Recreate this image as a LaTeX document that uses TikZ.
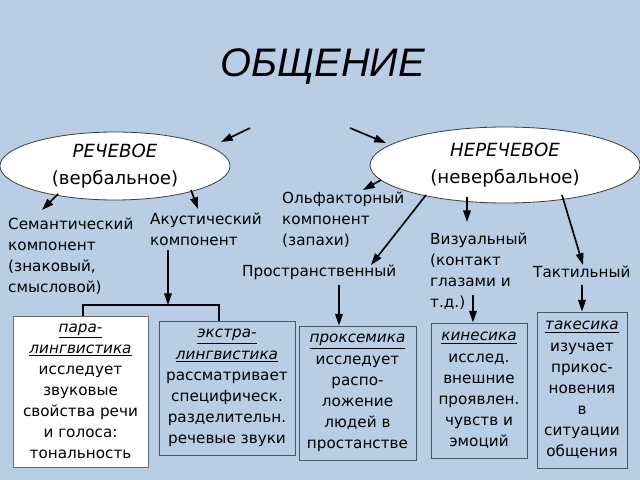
\documentclass[tikz,border=0pt]{standalone}
\usepackage{fontspec}
\setmainfont{DejaVu Sans}
\newfontfamily\titlefont{Liberation Sans}
\usetikzlibrary{shapes.geometric,arrows.meta}
\definecolor{bg}{HTML}{B9CDE5}
\definecolor{boxline}{HTML}{46566A}
\definecolor{paraline}{HTML}{6A6A6A}
\begin{document}
\begin{tikzpicture}[x=0.03cm,y=-0.03cm,
  lbl/.style={font=\fontsize{13}{18}\selectfont, align=left, anchor=west, inner sep=0},
  ell/.style={ellipse, draw=black!75, fill=white, line width=0.7pt, align=center, inner sep=0,
              font=\fontsize{15.5}{22.5}\selectfont},
  infobox/.style={draw=boxline, fill=bg, line width=0.8pt, align=center, inner sep=0,
              font=\fontsize{13}{18}\selectfont},
  arr/.style={-{Triangle[length=10pt,width=6.5pt]}, line width=1.4pt},
  ln/.style={line width=1.4pt}]
\fill[bg] (0,0) rectangle (640,480);
\useasboundingbox (0,0) rectangle (640,480);

% title
\node[font=\titlefont\itshape\fontsize{34}{40}\selectfont, inner sep=0] (title) at (323,67) {ОБЩЕНИЕ};

% ellipses
\node[ell, minimum width=6.9cm, minimum height=2.04cm] (rech) at (115,166)
  {{\itshape РЕЧЕВОЕ}\\(вербальное)};
\node[ell, minimum width=8.1cm, minimum height=2.28cm] (nerech) at (505,165)
  {{\itshape НЕРЕЧЕВОЕ}\\(невербальное)};

% labels
\node[lbl] (sem) at (8,256) {Семантический\\компонент\\(знаковый,\\смысловой)};
\node[lbl] (akus) at (150,229) {Акустический\\компонент};
\node[lbl] (olf) at (282,220) {Ольфакторный\\компонент\\(запахи)};
\node[lbl] (prost) at (242,272) {Пространственный};
\node[lbl] (viz) at (430,271) {Визуальный\\(контакт\\глазами и\\т.д.)};
\node[lbl] (takt) at (533,272) {Тактильный};

% boxes
\node[infobox, fill=white, draw=paraline, minimum width=4.05cm, minimum height=4.53cm] (para) at (80.5,391.5)
  {\underline{\textit{пара-}}\\\underline{\textit{лингвистика}}\\исследует\\звуковые\\свойства речи\\и голоса:\\тональность};
\node[infobox, minimum width=4.08cm, minimum height=4.02cm] (extra) at (227,388)
  {\underline{\textit{экстра-}}\\\underline{\textit{лингвистика}}\\рассматривает\\специфическ.\\разделительн.\\речевые звуки};
\node[infobox, minimum width=3.51cm, minimum height=4.02cm] (prox) at (357.5,393)
  {\underline{\textit{проксемика}}\\исследует\\распо-\\ложение\\людей в\\простанстве};
\node[infobox, minimum width=2.88cm, minimum height=4.05cm] (kines) at (479,390.5)
  {\underline{\textit{кинесика}}\\исслед.\\внешние\\проявлен.\\чувств и\\эмоций};
\node[infobox, minimum width=2.7cm, minimum height=4.68cm] (takes) at (582,390)
  {\underline{\textit{такесика}}\\изучает\\прикос-\\новения\\в\\ситуации\\общения};

% arrows from title
\coordinate (t1) at (250,128); \coordinate (t1e) at (221,142);
\coordinate (t2) at (350,128); \coordinate (t2e) at (386,143);
\draw[arr] (t1) -- (t1e);
\draw[arr] (t2) -- (t2e);

% arrows from РЕЧЕВОЕ
\coordinate (r1) at (58,194); \coordinate (r1e) at (42,210);
\coordinate (r2) at (191,190); \coordinate (r2e) at (198,209);
\draw[arr] (r1) -- (r1e);
\draw[arr] (r2) -- (r2e);

% arrows from НЕРЕЧЕВОЕ
\coordinate (n1) at (381,180); \coordinate (n1e) at (363,190);
\coordinate (n2) at (426,195); \coordinate (n2e) at (371,265);
\coordinate (n3) at (467,197); \coordinate (n3e) at (467,222);
\coordinate (n4) at (562,195); \coordinate (n4e) at (583,265);
\draw[arr] (n1) -- (n1e);
\draw[arr] (n2) -- (n2e);
\draw[arr] (n3) -- (n3e);
\draw[arr] (n4) -- (n4e);

% acoustic to boxes
\coordinate (a1) at (168,250); \coordinate (fork) at (168,305);
\draw[arr] (a1) -- (fork);
\coordinate (pl) at (83,305); \coordinate (pr) at (219,305);
\draw[ln] (pl |- para.north) -- (pl) -- (pr) -- (pr |- extra.north);

% arrows to lower boxes
\coordinate (p1) at (339,285);
\draw[arr] (p1) -- (p1 |- prox.north);
\coordinate (k1) at (473,295);
\draw[arr] (k1) -- (k1 |- kines.north);
\coordinate (s1) at (582,285);
\draw[arr] (s1) -- (s1 |- takes.north);
\end{tikzpicture}
\end{document}
